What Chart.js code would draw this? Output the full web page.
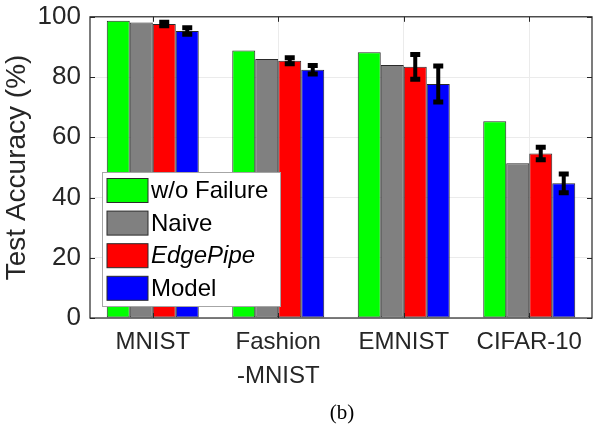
<!DOCTYPE html>
<html>
<head>
<meta charset="utf-8">
<script src="https://cdn.jsdelivr.net/npm/chart.js@4/dist/chart.umd.min.js"></script>
<style>
  html, body { margin: 0; padding: 0; background: #fff; }
  #wrap { position: relative; width: 595px; height: 427px; }
  #caption { position: absolute; left: 322px; top: 400px; width: 40px; text-align: center;
    font-family: "Liberation Serif", "Times New Roman", serif; font-size: 21px; color: #000; }
</style>
</head>
<body>
<div id="wrap">
  <canvas id="c" width="595" height="427"></canvas>
  <div id="caption">(b)</div>
</div>
<script>
// Datasets and accuracy values (%)
const categories = ['MNIST', ['Fashion', '-MNIST'], 'EMNIST', 'CIFAR-10'];
const seriesNames = ['w/o Failure', 'Naive', 'EdgePipe', 'Model'];
const woFailure = [98.7, 88.8, 88.2, 65.3];
const naive     = [98.1, 86.0, 84.0, 51.4];
const edgePipe  = [97.6, 85.4, 83.4, 54.6];
const model     = [95.3, 82.4, 77.7, 44.7];
const edgePipeErr = [0.6, 1.0, 4.1, 2.1];
const modelErr    = [1.1, 1.4, 6.0, 3.1];
const yTicks = [0, 20, 40, 60, 80, 100];

const colors = ['#00ff00', '#808080', '#ff0000', '#0000ff'];
const errors = [null, null, edgePipeErr, modelErr];

const axisColor = '#262626';
const sans = '"Liberation Sans", Arial, Helvetica, sans-serif';

// Error bars, frame, inward ticks and the in-plot legend
const extras = {
  id: 'extras',
  afterDatasetsDraw(chart) {
    const ctx = chart.ctx;
    const y = chart.scales.y;
    ctx.save();
    ctx.strokeStyle = '#000';
    chart.data.datasets.forEach((ds, di) => {
      const err = errors[di];
      if (!err) return;
      const meta = chart.getDatasetMeta(di);
      meta.data.forEach((bar, i) => {
        const v = ds.data[i];
        const yHi = y.getPixelForValue(v + err[i]);
        const yLo = y.getPixelForValue(v - err[i]);
        const x = bar.x;
        ctx.lineWidth = 4;
        ctx.beginPath();
        ctx.moveTo(x, yHi); ctx.lineTo(x, yLo);
        ctx.stroke();
        ctx.lineWidth = 5;
        ctx.beginPath();
        ctx.moveTo(x - 5, yHi); ctx.lineTo(x + 5, yHi);
        ctx.moveTo(x - 5, yLo); ctx.lineTo(x + 5, yLo);
        ctx.stroke();
      });
    });
    ctx.restore();
  },
  afterDraw(chart) {
    const ctx = chart.ctx;
    const a = chart.chartArea;
    const xs = chart.scales.x, ys = chart.scales.y;
    ctx.save();
    // frame
    ctx.strokeStyle = axisColor;
    ctx.lineWidth = 1.2;
    ctx.strokeRect(a.left, a.top, a.right - a.left, a.bottom - a.top);
    // inward ticks
    ctx.lineWidth = 1;
    yTicks.forEach(t => {
      const py = Math.round(ys.getPixelForValue(t)) + 0.5;
      ctx.beginPath();
      ctx.moveTo(a.left, py); ctx.lineTo(a.left + 5, py);
      ctx.moveTo(a.right, py); ctx.lineTo(a.right - 5, py);
      ctx.stroke();
    });
    categories.forEach((c, i) => {
      const px = Math.round(xs.getPixelForValue(i)) + 0.5;
      ctx.beginPath();
      ctx.moveTo(px, a.bottom); ctx.lineTo(px, a.bottom - 5);
      ctx.moveTo(px, a.top); ctx.lineTo(px, a.top + 5);
      ctx.stroke();
    });
    // legend
    const L = { x: 102.5, y: 172.5, w: 178, h: 134 };
    ctx.fillStyle = '#fff';
    ctx.fillRect(L.x, L.y, L.w, L.h);
    ctx.strokeStyle = '#a6a6a6';
    ctx.lineWidth = 1;
    ctx.strokeRect(L.x, L.y, L.w, L.h);
    seriesNames.forEach((name, i) => {
      const sy = 178.5 + i * 32.6;
      ctx.fillStyle = colors[i];
      ctx.fillRect(107, sy, 41, 24);
      ctx.strokeStyle = '#2b2b2b';
      ctx.strokeRect(107, sy, 41, 24);
      ctx.fillStyle = '#000';
      ctx.font = (i === 2 ? 'italic ' : '') + '24px ' + sans;
      ctx.textBaseline = 'middle';
      ctx.textAlign = 'left';
      ctx.fillText(name, 151, sy + 13);
    });
    ctx.restore();
  }
};

const datasets = seriesNames.map((name, i) => ({
  label: name,
  data: [woFailure, naive, edgePipe, model][i],
  backgroundColor: colors[i],
  borderColor: '#2a2a2a',
  borderWidth: 1,
  borderSkipped: false,
  categoryPercentage: 0.733,
  barPercentage: 1.0
}));

new Chart(document.getElementById('c'), {
  type: 'bar',
  data: { labels: categories, datasets },
  plugins: [extras],
  options: {
    responsive: false,
    animation: false,
    layout: { padding: { top: 15, right: 3, left: 0, bottom: 0 } },
    plugins: { legend: { display: false }, tooltip: { enabled: false } },
    scales: {
      x: {
        grid: { offset: false, color: '#ebebeb', drawTicks: false },
        border: { display: false },
        ticks: { color: axisColor, padding: 7, font: { family: sans, size: 24, lineHeight: 1.42 } },
        afterFit(s) { s.height = 109; }
      },
      y: {
        min: 0, max: 100,
        afterBuildTicks(s) { s.ticks = yTicks.map(v => ({ value: v })); },
        grid: { color: '#ebebeb', drawTicks: false },
        border: { display: false },
        ticks: { color: axisColor, padding: 9, font: { family: sans, size: 26, lineHeight: 0.6 } },
        title: { display: true, text: 'Test Accuracy (%)', color: axisColor, padding: 0,
                 font: { family: sans, size: 28 } },
        afterFit(s) { s.width = 90; }
      }
    }
  }
});
</script>
</body>
</html>
